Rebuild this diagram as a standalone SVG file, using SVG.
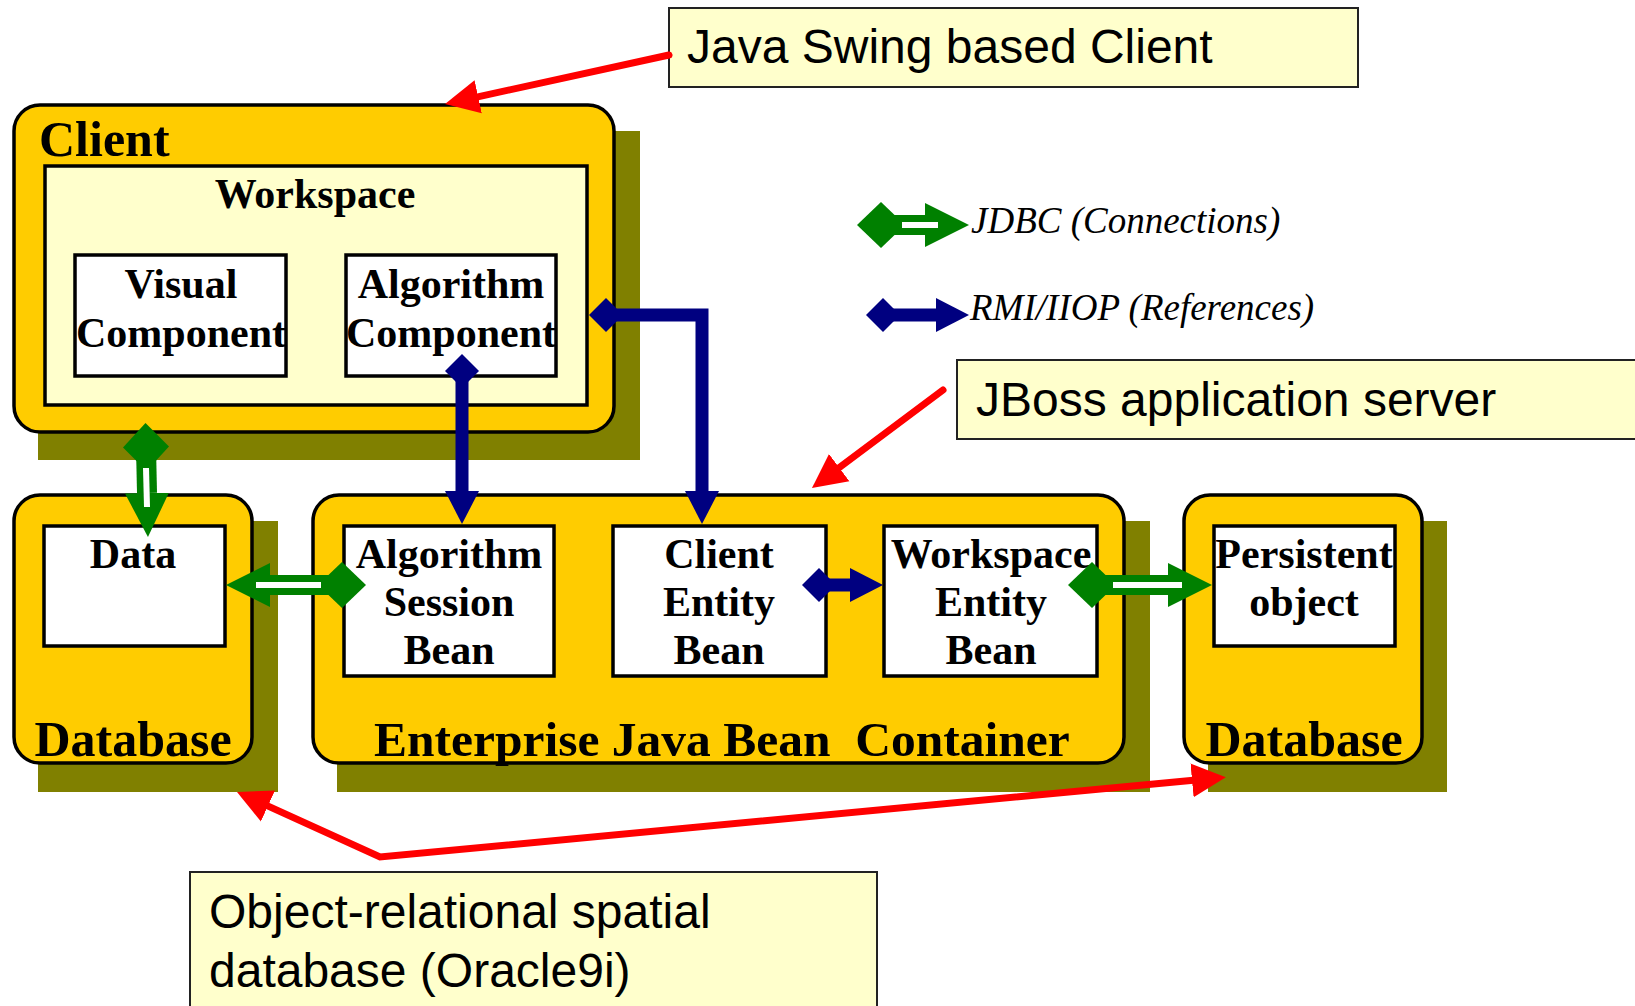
<svg xmlns="http://www.w3.org/2000/svg" width="1635" height="1006" viewBox="0 0 1635 1006">
  <style>
    .shadow { fill: #808000; }
    .frame { fill: #FFCC00; stroke: #000; stroke-width: 3.5; }
    .panel { fill: #FFFFCC; stroke: #000; stroke-width: 3.5; }
    .comp { fill: #FFFFFF; stroke: #000; stroke-width: 3.5; }
    .callout { fill: #FFFFCC; stroke: #222; stroke-width: 2; }
    .title { font-family: "Liberation Serif", "Times New Roman", serif; font-weight: bold; font-size: 50px; fill: #000; white-space: pre; }
    .label { font-family: "Liberation Serif", "Times New Roman", serif; font-weight: bold; font-size: 42px; fill: #000; text-anchor: middle; }
    .legend { font-family: "Liberation Serif", "Times New Roman", serif; font-style: italic; font-size: 37px; fill: #000; }
    .note { font-family: "Liberation Sans", Arial, sans-serif; font-size: 48px; fill: #000; }
    .jdbc { fill: none; stroke: #008000; stroke-width: 20; marker-start: url(#jdbcDiamond); marker-end: url(#jdbcHead); }
    .jdbc-gap { fill: none; stroke: #FFFFFF; stroke-width: 6; }
    .rmi { fill: none; stroke: #000080; stroke-width: 13; stroke-linejoin: miter; marker-start: url(#rmiDiamond); marker-end: url(#rmiHead); }
    .pointer { fill: none; stroke: #FF0000; stroke-width: 7; stroke-linecap: round; stroke-linejoin: miter; marker-end: url(#redHead); }
    .pointer2 { fill: none; stroke: #FF0000; stroke-width: 7; stroke-linejoin: miter; marker-start: url(#redHead); marker-end: url(#redHead); }
  </style>
  <defs>
    <marker id="jdbcDiamond" markerUnits="userSpaceOnUse" viewBox="-25 -25 50 50" markerWidth="50" markerHeight="50" refX="0" refY="0" orient="auto">
      <path d="M-24 0L0-23L24 0L0 23Z" fill="#008000"/>
    </marker>
    <marker id="jdbcHead" markerUnits="userSpaceOnUse" viewBox="0 -23 46 46" markerWidth="46" markerHeight="46" refX="0" refY="0" orient="auto">
      <path d="M0-22L44 0L0 22Z" fill="#008000"/>
    </marker>
    <marker id="rmiDiamond" markerUnits="userSpaceOnUse" viewBox="-18 -18 36 36" markerWidth="36" markerHeight="36" refX="0" refY="0" orient="auto">
      <path d="M-17 0L0-17L17 0L0 17Z" fill="#000080"/>
    </marker>
    <marker id="rmiHead" markerUnits="userSpaceOnUse" viewBox="0 -18 34 36" markerWidth="34" markerHeight="36" refX="0" refY="0" orient="auto">
      <path d="M0-17L33 0L0 17Z" fill="#000080"/>
    </marker>
    <marker id="redHead" markerUnits="userSpaceOnUse" viewBox="0 -18 36 36" markerWidth="36" markerHeight="36" refX="4" refY="0" orient="auto-start-reverse">
      <path d="M0-17L34 0L0 17Z" fill="#FF0000"/>
    </marker>
  </defs>

  <rect width="1635" height="1006" fill="#FFFFFF"/>

  <!-- Client tier -->
  <g id="client">
    <rect class="shadow" x="38" y="131" width="602" height="329"/>
    <rect class="frame" x="14" y="105" width="600" height="327" rx="26"/>
    <text class="title" x="39" y="156">Client</text>
    <g id="workspace">
      <rect class="panel" x="45" y="166" width="542" height="239"/>
      <text class="label" x="315" y="208">Workspace</text>
    </g>
    <g id="visual-component">
      <rect class="comp" x="75" y="255" width="211" height="121"/>
      <text class="label" x="181" y="298">Visual</text>
      <text class="label" x="181" y="347">Component</text>
    </g>
    <g id="algorithm-component">
      <rect class="comp" x="346" y="255" width="210" height="121"/>
      <text class="label" x="451" y="298">Algorithm</text>
      <text class="label" x="451" y="347">Component</text>
    </g>
  </g>

  <!-- Left database -->
  <g id="database-left">
    <rect class="shadow" x="38" y="521" width="240" height="271"/>
    <rect class="frame" x="14" y="495" width="238" height="268" rx="26"/>
    <text class="title" x="133" y="756" text-anchor="middle">Database</text>
    <g id="data">
      <rect class="comp" x="44" y="526" width="181" height="120"/>
      <text class="label" x="133" y="568">Data</text>
    </g>
  </g>

  <!-- EJB container -->
  <g id="ejb-container">
    <rect class="shadow" x="337" y="521" width="813" height="271"/>
    <rect class="frame" x="313" y="495" width="811" height="268" rx="26"/>
    <text class="title" x="374" y="756" style="font-size:49.5px">Enterprise Java Bean  Container</text>
    <g id="algorithm-session-bean">
      <rect class="comp" x="344" y="526" width="210" height="150"/>
      <text class="label" x="449" y="568">Algorithm</text>
      <text class="label" x="449" y="616">Session</text>
      <text class="label" x="449" y="664">Bean</text>
    </g>
    <g id="client-entity-bean">
      <rect class="comp" x="613" y="526" width="213" height="150"/>
      <text class="label" x="719" y="568">Client</text>
      <text class="label" x="719" y="616">Entity</text>
      <text class="label" x="719" y="664">Bean</text>
    </g>
    <g id="workspace-entity-bean">
      <rect class="comp" x="884" y="526" width="213" height="150"/>
      <text class="label" x="991" y="568">Workspace</text>
      <text class="label" x="991" y="616">Entity</text>
      <text class="label" x="991" y="664">Bean</text>
    </g>
  </g>

  <!-- Right database -->
  <g id="database-right">
    <rect class="shadow" x="1208" y="521" width="239" height="271"/>
    <rect class="frame" x="1184" y="495" width="238" height="268" rx="26"/>
    <text class="title" x="1304" y="756" text-anchor="middle">Database</text>
    <g id="persistent-object">
      <rect class="comp" x="1214" y="526" width="181" height="120"/>
      <text class="label" x="1304" y="568">Persistent</text>
      <text class="label" x="1304" y="616">object</text>
    </g>
  </g>

  <!-- Legend -->
  <g id="legend">
    <path class="jdbc" d="M881 225L925 225"/>
    <path class="jdbc-gap" d="M902 225L938 225"/>
    <text class="legend" x="971" y="233">JDBC (Connections)</text>
    <path class="rmi" d="M883 315L936 315"/>
    <text class="legend" x="970" y="320">RMI/IIOP (References)</text>
  </g>

  <!-- Callouts -->
  <g id="callout-swing">
    <rect class="callout" x="669" y="8" width="689" height="79"/>
    <text class="note" x="687" y="63">Java Swing based Client</text>
  </g>
  <g id="callout-jboss">
    <rect class="callout" x="957" y="360" width="700" height="79"/>
    <text class="note" x="976" y="416">JBoss application server</text>
  </g>
  <g id="callout-oracle">
    <rect class="callout" x="190" y="872" width="687" height="160"/>
    <text class="note" x="209" y="928">Object-relational spatial</text>
    <text class="note" x="209" y="987">database (Oracle9i)</text>
  </g>

  <!-- Connectors -->
  <g id="connectors">
    <!-- JDBC links -->
    <path class="jdbc" d="M146 447L147 493"/>
    <path class="jdbc-gap" d="M146 468L147 507"/>
    <path class="jdbc" d="M342 585L270 585"/>
    <path class="jdbc-gap" d="M321 585L256 585"/>
    <path class="jdbc" d="M1092 585L1168 585"/>
    <path class="jdbc-gap" d="M1113 585L1182 585"/>
    <!-- RMI/IIOP links -->
    <path class="rmi" d="M462 371L462 491"/>
    <path class="rmi" d="M606 315L702 315L702 491"/>
    <path class="rmi" d="M819 585L850 585"/>
    <!-- Callout pointers -->
    <path class="pointer" d="M669 55L474.3 97.6"/>
    <path class="pointer" d="M943 390L836 470"/>
    <path class="pointer2" d="M264.3 804.4L380 857L1196 780"/>
  </g>
</svg>
